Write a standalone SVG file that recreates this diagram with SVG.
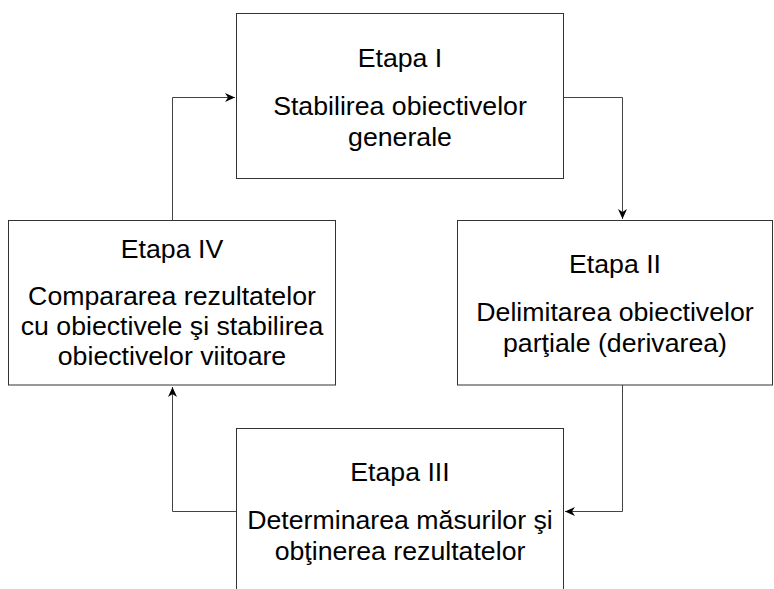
<svg xmlns="http://www.w3.org/2000/svg" width="774" height="589" viewBox="0 0 774 589">
<style>
  .box { fill: #ffffff; stroke: #333333; stroke-width: 1; }
  .t { font-family: "Liberation Sans", Arial, sans-serif; font-size: 26.7px; fill: #000000; text-anchor: middle; }
  .conn { fill: none; stroke: #444444; stroke-width: 1; }
</style>
<defs>
  <marker id="arr" viewBox="0 0 10 9" refX="10" refY="4.5" markerWidth="10" markerHeight="9" markerUnits="userSpaceOnUse" orient="auto">
    <path d="M0,0 L10,4.5 L0,9 L3,4.5 z" fill="#000000"/>
  </marker>
</defs>
<rect width="774" height="589" fill="#ffffff"/>
<g id="connectors">
  <path class="conn" d="M172.5,220.5 V97.5 H235" marker-end="url(#arr)"/>
  <path class="conn" d="M563.5,97.5 H622.5 V219" marker-end="url(#arr)"/>
  <path class="conn" d="M622.5,385 V511.5 H565" marker-end="url(#arr)"/>
  <path class="conn" d="M236.5,511.5 H172.5 V387" marker-end="url(#arr)"/>
</g>
<g id="etapa1">
  <rect class="box" x="236.5" y="13.5" width="327" height="165"/>
  <text class="t" x="400" y="67">Etapa I</text>
  <text class="t" x="400" y="115">Stabilirea obiectivelor</text>
  <text class="t" x="400" y="146">generale</text>
</g>
<g id="etapa2">
  <rect class="box" x="457.5" y="220.5" width="315" height="164.5"/>
  <text class="t" x="615" y="273">Etapa II</text>
  <text class="t" x="615" y="321">Delimitarea obiectivelor</text>
  <text class="t" x="615" y="352">parţiale (derivarea)</text>
</g>
<g id="etapa3">
  <rect class="box" x="236.5" y="428.5" width="327" height="200"/>
  <text class="t" x="400" y="481">Etapa III</text>
  <text class="t" x="400" y="529">Determinarea măsurilor şi</text>
  <text class="t" x="400" y="560">obţinerea rezultatelor</text>
</g>
<g id="etapa4">
  <rect class="box" x="8.5" y="220.5" width="327" height="164.5"/>
  <text class="t" x="172" y="258">Etapa IV</text>
  <text class="t" x="172" y="305">Compararea rezultatelor</text>
  <text class="t" x="172" y="335">cu obiectivele şi stabilirea</text>
  <text class="t" x="172" y="365">obiectivelor viitoare</text>
</g>
</svg>
